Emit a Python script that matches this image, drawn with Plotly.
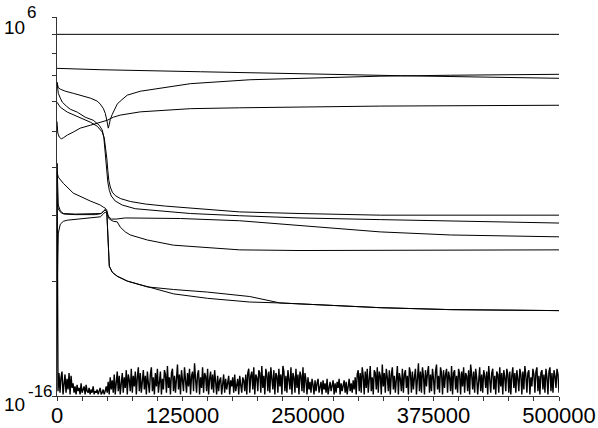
import plotly.graph_objects as go

# ---- data (y in axis units of a single-decade log scale, 1..10) ----
c1_x = [0, 500000]
c1_y = [9.0, 9.0]

c2_x = [0, 43000, 143000, 242000, 342000, 500000]
c2_y = [7.32, 7.26, 7.17, 7.08, 7.00, 6.89]

c3_x = [0, 1300, 3300, 8300, 16200, 23200, 33100, 40100, 43100, 46100, 48100, 49600, 51100,
        52100, 53100, 55100, 60000, 63000, 70000, 83000, 110000, 133000, 192000, 242000,
        322000, 392000, 500000]
c3_y = [6.73, 6.51, 6.45, 6.37, 6.29, 6.22, 6.11, 6.00, 5.89, 5.74, 5.57, 5.34, 5.09,
        5.21, 5.37, 5.54, 5.89, 6.00, 6.22, 6.37, 6.53, 6.67, 6.83, 6.89,
        6.98, 7.02, 7.06]

c4_x = [0, 1300, 3300, 5300, 9300, 13200, 20200, 28100, 36100, 42100, 45100, 46600, 47600,
        48600, 49600, 50600, 52100, 54100, 58000, 65000, 78000, 100000, 133000, 182000,
        242000, 322000, 500000]
c4_y = [6.73, 6.29, 6.11, 5.96, 5.82, 5.71, 5.61, 5.44, 5.34, 5.18, 5.03, 4.82, 4.51,
        4.19, 3.90, 3.67, 3.49, 3.37, 3.27, 3.19, 3.12, 3.08, 3.03, 2.99,
        2.95, 2.92, 2.86]

c5_x = [0, 800, 3300, 10300, 23200, 33100, 40100, 45100, 47100, 48600, 49600, 50600, 51600,
        53100, 55100, 58000, 63000, 73000, 88000, 108000, 133000, 182000, 242000, 322000,
        500000]
c5_y = [5.96, 5.92, 5.78, 5.61, 5.41, 5.28, 5.15, 4.97, 4.79, 4.51, 4.24, 3.94, 3.71,
        3.56, 3.45, 3.38, 3.32, 3.26, 3.21, 3.17, 3.13, 3.06, 3.03, 3.00,
        3.00]

c6_x = [0, 800, 2300, 4300, 6300, 10300, 16200, 23200, 33100, 43100, 50100, 56100, 63000,
        83000, 110000, 133000, 182000, 242000, 322000, 500000]
c6_y = [5.30, 4.94, 4.82, 4.77, 4.80, 4.88, 4.97, 5.09, 5.18, 5.28, 5.34, 5.44, 5.51,
        5.62, 5.69, 5.73, 5.76, 5.78, 5.82, 5.85]

c7_x = [0, 1300, 6300, 16200, 33100, 43100, 46100, 48100, 49600, 51100, 54100, 59000, 68000,
        88000, 123000, 182000, 242000, 322000, 392000, 500000]
c7_y = [3.90, 3.78, 3.64, 3.43, 3.27, 3.19, 3.15, 3.13, 3.09, 2.98, 2.93, 2.93, 2.95,
        2.95, 2.94, 2.90, 2.82, 2.71, 2.66, 2.63]

c8_x = [0, 300, 1300, 4300, 7300, 18200, 38100, 44100, 46600, 48100, 49600, 50100, 50600,
        51100, 52100, 55100, 60000, 70000, 90000, 116000, 150000, 192000, 222000, 262000,
        322000, 392000, 500000]
c8_y = [3.43, 3.23, 3.11, 3.04, 3.02, 3.01, 3.01, 3.03, 3.08, 3.10, 3.06, 2.82, 2.50,
        2.31, 2.20, 2.12, 2.07, 2.01, 1.94, 1.91, 1.88, 1.83, 1.76, 1.74,
        1.71, 1.69, 1.68]

c9_x = [0, 600, 1300, 3300, 6300, 10300, 23200, 33100, 43100, 46100, 48100, 50100, 52100,
        56100, 60000, 63000, 68000, 73000, 90000, 116000, 150000, 182000, 242000, 322000,
        500000]
c9_y = [1.79, 2.43, 2.69, 2.84, 2.89, 2.91, 2.93, 2.95, 2.97, 3.02, 3.06, 3.02, 2.93,
        2.89, 2.88, 2.79, 2.71, 2.66, 2.58, 2.50, 2.46, 2.43, 2.42, 2.42,
        2.43]

c10_x = [0, 600, 1300, 3300, 6300, 18200, 38100, 44100, 46600, 48100, 49600, 50100, 50600,
         51100, 52100, 55100, 60000, 70000, 90000, 116000, 150000, 192000, 222000, 262000,
         322000, 392000, 500000]
c10_y = [4.12, 3.49, 3.19, 3.08, 3.03, 3.02, 3.02, 3.03, 3.08, 3.10, 3.06, 2.82, 2.50,
         2.31, 2.20, 2.12, 2.07, 2.01, 1.94, 1.86, 1.81, 1.77, 1.76, 1.74,
         1.71, 1.69, 1.68]

# residual noise, one sample every 1000 steps
noise_step = 1000
noise_y = [
    4.10, 1.03, 1.15, 1.02, 1.12, 1.16, 1.01, 1.09, 1.14, 1.02, 1.11, 1.04, 1.15, 1.01, 1.13, 1.05, 1.08, 1.02, 1.06, 1.01,
    1.07, 1.03, 1.05, 1.01, 1.08, 1.02, 1.04, 1.06, 1.01, 1.07, 1.03, 1.02, 1.05, 1.01, 1.04, 1.02, 1.06, 1.01, 1.03, 1.02,
    1.04, 1.01, 1.03, 1.05, 1.01, 1.02, 1.04, 1.01, 1.03, 1.06, 1.02, 1.09, 1.01, 1.12, 1.04, 1.10, 1.02, 1.14, 1.01, 1.11,
    1.16, 1.03, 1.13, 1.01, 1.09, 1.15, 1.02, 1.12, 1.05, 1.17, 1.01, 1.14, 1.10, 1.03, 1.18, 1.02, 1.13, 1.06, 1.16, 1.01,
    1.12, 1.19, 1.03, 1.15, 1.02, 1.11, 1.17, 1.04, 1.13, 1.01, 1.16, 1.08, 1.02, 1.14, 1.19, 1.03, 1.12, 1.01, 1.15, 1.06,
    1.18, 1.02, 1.13, 1.16, 1.01, 1.11, 1.04, 1.17, 1.14, 1.02, 1.20, 1.05, 1.12, 1.01, 1.15, 1.18, 1.03, 1.13, 1.02, 1.16,
    1.21, 1.04, 1.14, 1.01, 1.17, 1.10, 1.03, 1.19, 1.12, 1.02, 1.15, 1.06, 1.18, 1.01, 1.13, 1.16, 1.03, 1.22, 1.11, 1.02,
    1.14, 1.17, 1.01, 1.12, 1.05, 1.19, 1.02, 1.15, 1.13, 1.03, 1.18, 1.01, 1.11, 1.16, 1.04, 1.14, 1.02, 1.17, 1.09, 1.01,
    1.13, 1.03, 1.10, 1.12, 1.01, 1.08, 1.14, 1.02, 1.11, 1.04, 1.09, 1.13, 1.01, 1.10, 1.06, 1.12, 1.02, 1.14, 1.03, 1.09,
    1.11, 1.01, 1.13, 1.07, 1.02, 1.12, 1.10, 1.03, 1.14, 1.01, 1.15, 1.18, 1.02, 1.13, 1.16, 1.04, 1.19, 1.01, 1.14, 1.12,
    1.03, 1.17, 1.15, 1.02, 1.20, 1.05, 1.13, 1.01, 1.18, 1.14, 1.03, 1.16, 1.02, 1.19, 1.11, 1.04, 1.17, 1.01, 1.15, 1.13,
    1.02, 1.18, 1.06, 1.14, 1.01, 1.20, 1.16, 1.03, 1.13, 1.02, 1.17, 1.11, 1.04, 1.19, 1.01, 1.15, 1.12, 1.02, 1.18, 1.05,
    1.14, 1.01, 1.16, 1.13, 1.03, 1.19, 1.02, 1.15, 1.10, 1.01, 1.12, 1.04, 1.09, 1.02, 1.11, 1.07, 1.01, 1.10, 1.03, 1.08,
    1.11, 1.02, 1.06, 1.09, 1.01, 1.10, 1.04, 1.08, 1.02, 1.11, 1.01, 1.07, 1.09, 1.03, 1.06, 1.10, 1.01, 1.08, 1.02, 1.09,
    1.05, 1.11, 1.01, 1.08, 1.03, 1.07, 1.10, 1.02, 1.09, 1.01, 1.06, 1.11, 1.03, 1.08, 1.02, 1.10, 1.04, 1.12, 1.01, 1.14,
    1.17, 1.03, 1.15, 1.02, 1.19, 1.13, 1.01, 1.16, 1.05, 1.18, 1.02, 1.14, 1.20, 1.03, 1.12, 1.01, 1.17, 1.15, 1.04, 1.19,
    1.02, 1.16, 1.13, 1.01, 1.21, 1.06, 1.15, 1.02, 1.18, 1.12, 1.03, 1.17, 1.01, 1.14, 1.19, 1.04, 1.13, 1.02, 1.16, 1.20,
    1.01, 1.15, 1.11, 1.03, 1.18, 1.02, 1.14, 1.17, 1.05, 1.13, 1.01, 1.19, 1.15, 1.02, 1.16, 1.04, 1.12, 1.18, 1.01, 1.14,
    1.22, 1.03, 1.16, 1.02, 1.19, 1.13, 1.01, 1.17, 1.06, 1.15, 1.20, 1.02, 1.14, 1.03, 1.18, 1.11, 1.01, 1.16, 1.21, 1.04,
    1.13, 1.02, 1.19, 1.15, 1.01, 1.17, 1.05, 1.14, 1.18, 1.02, 1.16, 1.12, 1.03, 1.20, 1.01, 1.15, 1.17, 1.04, 1.13, 1.02,
    1.18, 1.14, 1.01, 1.16, 1.06, 1.19, 1.02, 1.15, 1.13, 1.03, 1.17, 1.01, 1.21, 1.14, 1.04, 1.16, 1.02, 1.18, 1.12, 1.01,
    1.15, 1.19, 1.03, 1.14, 1.02, 1.17, 1.13, 1.05, 1.16, 1.01, 1.20, 1.12, 1.02, 1.15, 1.18, 1.04, 1.13, 1.01, 1.16, 1.14,
    1.02, 1.19, 1.06, 1.15, 1.01, 1.17, 1.12, 1.03, 1.18, 1.14, 1.02, 1.16, 1.01, 1.13, 1.19, 1.05, 1.15, 1.02, 1.17, 1.11,
    1.03, 1.18, 1.14, 1.01, 1.16, 1.04, 1.20, 1.13, 1.02, 1.15, 1.17, 1.01, 1.12, 1.06, 1.18, 1.14, 1.02, 1.16, 1.19, 1.03,
    1.13, 1.01, 1.15, 1.17, 1.04, 1.14, 1.02, 1.18, 1.12, 1.01, 1.16, 1.19, 1.03, 1.15, 1.02, 1.17, 1.13, 1.05, 1.18, 1.14,
    1.02,
]
noise_x = [i * noise_step for i in range(len(noise_y))]

x_ticks = list(range(0, 500001, 25000))
x_labels = [f"{v}" if v % 125000 == 0 else "" for v in x_ticks]
y_ticks = [1, 2, 3, 4, 5, 6, 7, 8, 9, 10]

curves = [(c1_x, c1_y), (c2_x, c2_y), (c3_x, c3_y), (c4_x, c4_y), (c5_x, c5_y),
          (c6_x, c6_y), (c7_x, c7_y), (c8_x, c8_y), (c9_x, c9_y), (c10_x, c10_y)]

fig = go.Figure()
fig.add_trace(go.Scatter(x=noise_x, y=noise_y, mode="lines",
                         line=dict(color="black", width=1.4)))
for cx, cy in curves:
    fig.add_trace(go.Scatter(x=cx, y=cy, mode="lines",
                             line=dict(color="black", width=1)))

W, H = 598, 428
ML, MR, MT, MB = 57, 39, 17, 32
pw, ph = W - ML - MR, H - MT - MB


def px(x):
    return (x - ML) / pw


def py(y):
    return (H - MB - y) / ph


font = "Liberation Sans, Arial, Helvetica, sans-serif"
ann = [
    dict(text="10", x=px(14), y=py(28), size=19),
    dict(text="6", x=px(31.5), y=py(12.5), size=17),
    dict(text="10", x=px(14.5), y=py(404), size=19),
    dict(text="-16", x=px(40), y=py(391), size=17),
]

fig.update_layout(
    width=W, height=H,
    margin=dict(l=ML, r=MR, t=MT, b=MB, pad=0, autoexpand=False),
    paper_bgcolor="white", plot_bgcolor="white",
    showlegend=False,
    font=dict(family=font, color="black"),
    annotations=[dict(text=a["text"], x=a["x"], y=a["y"], xref="paper", yref="paper",
                      xanchor="center", yanchor="middle", showarrow=False,
                      font=dict(size=a["size"], family=font, color="black"))
                 for a in ann],
)
fig.update_xaxes(range=[0, 500000], tickvals=x_ticks, ticktext=x_labels,
                 ticks="outside", ticklen=4, tickcolor="#333", tickwidth=1,
                 ticklabelstandoff=-4,
                 showline=True, linecolor="#333", linewidth=1,
                 showgrid=False, zeroline=False, automargin=False,
                 tickfont=dict(size=22, family=font, color="black"))
fig.update_yaxes(type="log", range=[0, 1], tickvals=y_ticks,
                 ticktext=[""] * len(y_ticks),
                 ticks="outside", ticklen=4, tickcolor="#333", tickwidth=1,
                 showline=True, linecolor="#333", linewidth=1,
                 showgrid=False, zeroline=False, automargin=False)

fig.write_html("out.html")
